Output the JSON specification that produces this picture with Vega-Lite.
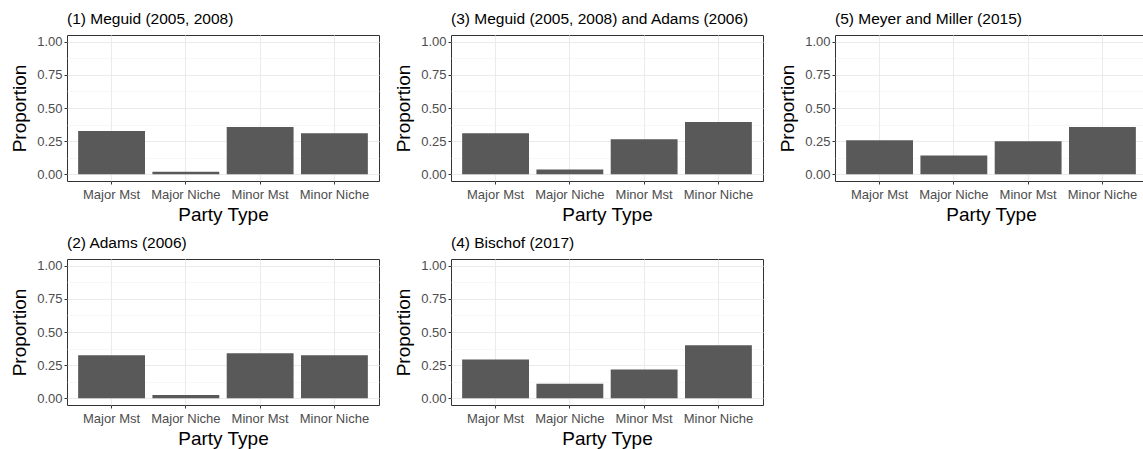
{
  "$schema": "https://vega.github.io/schema/vega-lite/v6.json",
  "padding": {"left": 10, "top": 11, "right": 0, "bottom": 0},
  "background": "white",
  "data": {"values": [
    {"study": "(1) Meguid (2005, 2008)", "type": "Major Mst", "prop": 0.326},
    {"study": "(1) Meguid (2005, 2008)", "type": "Major Niche", "prop": 0.020},
    {"study": "(1) Meguid (2005, 2008)", "type": "Minor Mst", "prop": 0.356},
    {"study": "(1) Meguid (2005, 2008)", "type": "Minor Niche", "prop": 0.310},
    {"study": "(2) Adams (2006)", "type": "Major Mst", "prop": 0.324},
    {"study": "(2) Adams (2006)", "type": "Major Niche", "prop": 0.026},
    {"study": "(2) Adams (2006)", "type": "Minor Mst", "prop": 0.339},
    {"study": "(2) Adams (2006)", "type": "Minor Niche", "prop": 0.324},
    {"study": "(3) Meguid (2005, 2008) and Adams (2006)", "type": "Major Mst", "prop": 0.310},
    {"study": "(3) Meguid (2005, 2008) and Adams (2006)", "type": "Major Niche", "prop": 0.036},
    {"study": "(3) Meguid (2005, 2008) and Adams (2006)", "type": "Minor Mst", "prop": 0.265},
    {"study": "(3) Meguid (2005, 2008) and Adams (2006)", "type": "Minor Niche", "prop": 0.394},
    {"study": "(4) Bischof (2017)", "type": "Major Mst", "prop": 0.293},
    {"study": "(4) Bischof (2017)", "type": "Major Niche", "prop": 0.110},
    {"study": "(4) Bischof (2017)", "type": "Minor Mst", "prop": 0.217},
    {"study": "(4) Bischof (2017)", "type": "Minor Niche", "prop": 0.400},
    {"study": "(5) Meyer and Miller (2015)", "type": "Major Mst", "prop": 0.257},
    {"study": "(5) Meyer and Miller (2015)", "type": "Major Niche", "prop": 0.142},
    {"study": "(5) Meyer and Miller (2015)", "type": "Minor Mst", "prop": 0.249},
    {"study": "(5) Meyer and Miller (2015)", "type": "Minor Niche", "prop": 0.356}
  ]},
  "columns": 3,
  "spacing": {"column": 14, "row": 10},
  "facet": {
    "field": "study", "type": "nominal",
    "sort": ["(1) Meguid (2005, 2008)", "(3) Meguid (2005, 2008) and Adams (2006)", "(5) Meyer and Miller (2015)", "(2) Adams (2006)", "(4) Bischof (2017)"],
    "header": {"title": null, "labelAnchor": "start", "labelAlign": "left", "labelFont": "Liberation Sans", "labelFontSize": 15.5, "labelColor": "black", "labelPadding": 8}
  },
  "spec": {
    "width": 312,
    "height": 146,
    "layer": [
      {
        "mark": {"type": "bar", "color": "#595959"},
        "encoding": {
          "x": {"field": "type", "type": "nominal",
                "scale": {"paddingInner": 0.1, "paddingOuter": 0.15},
                "axis": {"title": "Party Type", "labelAngle": 0, "bandPosition": 0.5, "grid": true}},
          "y": {"field": "prop", "type": "quantitative",
                "scale": {"domain": [-0.05, 1.05], "nice": false, "zero": false},
                "axis": {"title": "Proportion", "values": [0, 0.25, 0.5, 0.75, 1], "format": ".2f", "grid": true}}
        }
      },
      {
        "mark": {"type": "rule", "opacity": 0},
        "encoding": {
          "y": {"field": "prop", "type": "quantitative",
                "axis": {"orient": "left", "values": [0.125, 0.375, 0.625, 0.875], "labels": false, "ticks": false, "domain": false, "title": null, "grid": true, "gridWidth": 0.6, "gridColor": "#F2F2F2"}}
        }
      }
    ],
    "resolve": {"axis": {"y": "independent"}}
  },
  "resolve": {"axis": {"x": "independent", "y": "independent"}},
  "config": {
    "font": "Liberation Sans",
    "view": {"stroke": "#333333", "strokeWidth": 1},
    "axis": {
      "domain": false,
      "gridColor": "#EBEBEB",
      "gridWidth": 1.1,
      "tickColor": "#333333",
      "tickSize": 3,
      "labelFont": "Liberation Sans",
      "labelFontSize": 13,
      "labelColor": "#4D4D4D",
      "labelPadding": 2,
      "titleFont": "Liberation Sans",
      "titleFontSize": 19,
      "titleFontWeight": "normal",
      "titleColor": "black"
    },
    "axisX": {"titlePadding": 4, "labelPadding": 4},
    "axisY": {"titlePadding": 7}
  }
}
